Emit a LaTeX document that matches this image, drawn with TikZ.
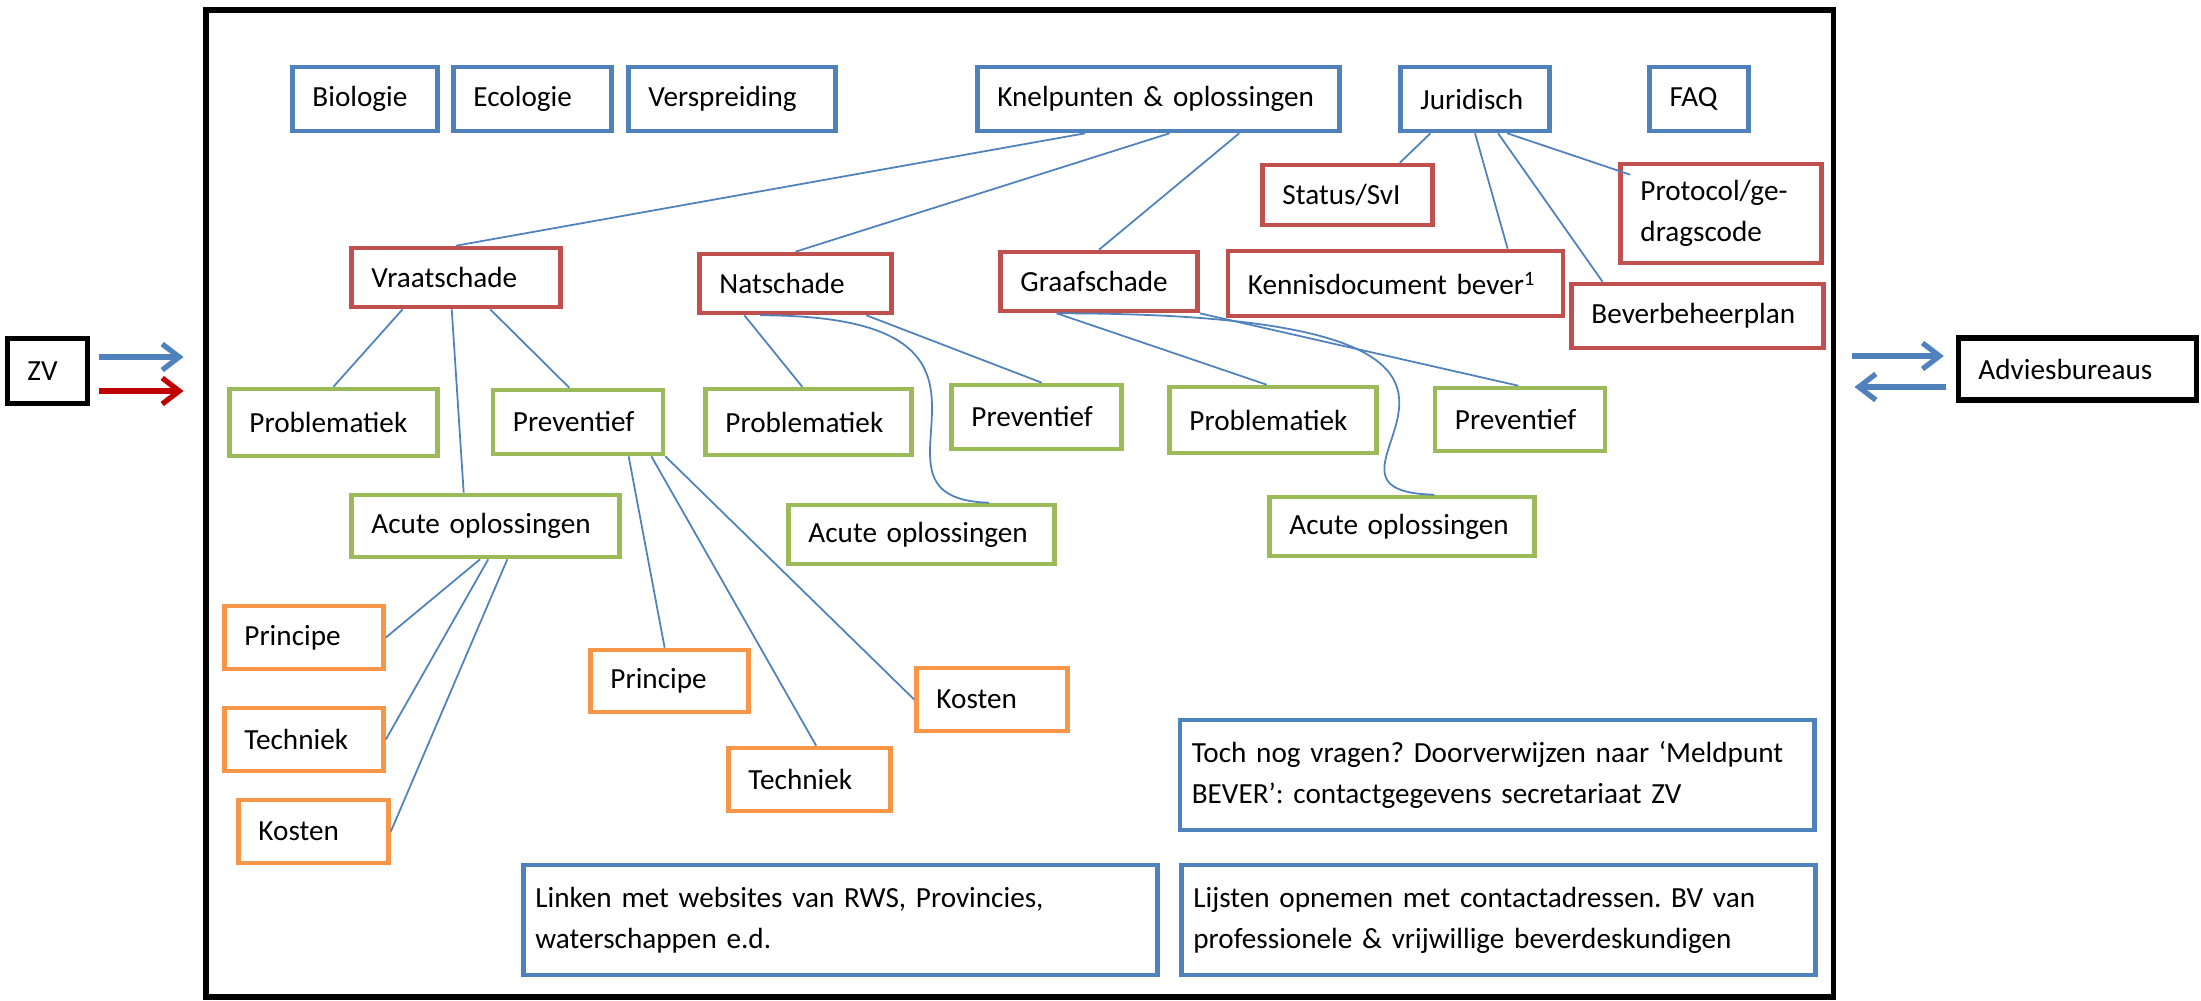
\documentclass[tikz,border=0pt]{standalone}
\usepackage{fontspec}
\setmainfont{Carlito}
\usetikzlibrary{calc,arrows.meta}
\definecolor{boxblue}{HTML}{4F81BD}
\definecolor{boxred}{HTML}{C0504D}
\definecolor{boxgreen}{HTML}{9BBB59}
\definecolor{boxorange}{HTML}{F79646}
\definecolor{arrowred}{HTML}{C00000}
\frenchspacing

\begin{document}
\begin{tikzpicture}[x=0.01cm, y=-0.01cm,
    tbox/.style={draw, line width=1.3pt, inner xsep=0.2cm, inner ysep=0pt, align=left,
      font=\fontsize{8.3}{11.7}\selectfont},
    wh/.style 2 args={text width=#1cm, minimum height=#2cm},
    bluebox/.style={tbox, draw=boxblue},
    redbox/.style={tbox, draw=boxred},
    greenbox/.style={tbox, draw=boxgreen},
    orangebox/.style={tbox, draw=boxorange},
    blackbox/.style={tbox, draw=black, line width=1.5pt},
    conn/.style={boxblue, line width=0.5pt},
    fat/.style={line width=1.5pt, -{Straight Barb[length=0.17cm, width=0.26cm]}}]
    \useasboundingbox (0,0) rectangle (2201,1000);
    \node[draw, line width=1.7pt, inner sep=0pt, minimum width=16.27cm, minimum height=9.87cm] (frame) at (1019.5,503.5) {};

    \node[bluebox, wh={1.05}{0.64}] (bio) at (365,99) {Biologie};
    \node[bluebox, wh={1.18}{0.64}] (eco) at (532.5,99) {Ecologie};
    \node[bluebox, wh={1.67}{0.64}] (vers) at (732,99) {Verspreiding};
    \node[bluebox, wh={3.22}{0.64}] (knel) at (1158.5,99) {Knelpunten \& oplossingen};
    \node[bluebox, wh={1.09}{0.64}] (jur) at (1475,99) {Juridisch};
    \node[bluebox, wh={0.59}{0.64}] (faq) at (1699,99) {FAQ};

    \node[redbox, wh={1.69}{0.59}] (vraat) at (456,277.5) {Vraatschade};
    \node[redbox, wh={1.52}{0.59}] (nat) at (795.5,283.5) {Natschade};
    \node[redbox, wh={1.57}{0.59}] (graaf) at (1099,281.5) {Graafschade};
    \node[redbox, wh={1.30}{0.60}] (status) at (1347.5,195) {Status/SvI};
    \node[redbox, wh={1.61}{0.99}] (proto) at (1721,213.5) {Protocol/ge-\\dragscode};
    \node[redbox, wh={2.95}{0.65}] (kennis) at (1395.5,283.5) {Kennisdocument bever\textsuperscript{1}};
    \node[redbox, wh={2.12}{0.64}] (bever) at (1697.5,316) {Beverbeheerplan};

    \node[greenbox, wh={1.68}{0.67}] (probv) at (333.5,422.5) {Problematiek};
    \node[greenbox, wh={1.30}{0.64}] (prevv) at (578,422) {Preventief};
    \node[greenbox, wh={2.28}{0.62}] (acv) at (485.5,526) {Acute oplossingen};
    \node[greenbox, wh={1.66}{0.66}] (probn) at (808.5,422) {Problematiek};
    \node[greenbox, wh={1.30}{0.64}] (prevn) at (1036.5,417) {Preventief};
    \node[greenbox, wh={2.26}{0.59}] (acn) at (921.5,534.5) {Acute oplossingen};
    \node[greenbox, wh={1.67}{0.66}] (probg) at (1273,420) {Problematiek};
    \node[greenbox, wh={1.30}{0.63}] (prevg) at (1520,419.5) {Preventief};
    \node[greenbox, wh={2.25}{0.59}] (acg) at (1402,526.5) {Acute oplossingen};

    \node[orangebox, wh={1.19}{0.63}] (prinav) at (304,637.5) {Principe};
    \node[orangebox, wh={1.19}{0.63}] (techav) at (304,739.5) {Techniek};
    \node[orangebox, wh={1.10}{0.63}] (kostav) at (313.5,831.5) {Kosten};
    \node[orangebox, wh={1.18}{0.62}] (prinpv) at (669.5,681) {Principe};
    \node[orangebox, wh={1.22}{0.63}] (techpv) at (809.5,779.5) {Techniek};
    \node[orangebox, wh={1.11}{0.63}] (kostpv) at (992,699.5) {Kosten};

    \node[bluebox, inner xsep=0.12cm, wh={6.1}{1.10}] (linken) at (840.5,920) {Linken met websites van RWS, Provincies,\\waterschappen e.d.};
    \node[bluebox, inner xsep=0.12cm, wh={6.1}{1.10}] (toch) at (1497,775) {Toch nog vragen? Doorverwijzen naar ‘Meldpunt\\BEVER’: contactgegevens secretariaat ZV};
    \node[bluebox, inner xsep=0.12cm, wh={6.1}{1.10}] (lijsten) at (1498.5,920) {Lijsten opnemen met contactadressen. BV van\\professionele \& vrijwillige beverdeskundigen};

    \node[blackbox, wh={0.40}{0.65}] (zv) at (47.5,371) {ZV};
    \node[blackbox, wh={1.98}{0.62}] (adv) at (2077.5,369) {Adviesbureaus};

    \draw[fat, boxblue] ($(zv.east)+(9,-14)$) -- ($(zv.east -| frame.west)+(-19,-14)$);
    \draw[fat, arrowred] ($(zv.east)+(9,20)$) -- ($(zv.east -| frame.west)+(-19,20)$);
    \draw[fat, boxblue] ($(adv.west -| frame.east)+(16,-13)$) -- ($(adv.west)+(-12,-13)$);
    \draw[fat, boxblue] ($(adv.west)+(-10,18)$) -- ($(adv.west -| frame.east)+(18,18)$);

    \draw[conn] ($(knel.south west)!0.30!(knel.south east)$) -- (vraat.north);
    \draw[conn] ($(knel.south west)!0.53!(knel.south east)$) -- (nat.north);
    \draw[conn] ($(knel.south west)!0.72!(knel.south east)$) -- (graaf.north);
    \draw[conn] ($(jur.south west)!0.21!(jur.south east)$) -- ($(status.north west)!0.80!(status.north east)$);
    \draw[conn] ($(jur.south west)!0.50!(jur.south east)$) -- ($(kennis.north west)!0.83!(kennis.north east)$);
    \draw[conn] ($(jur.south west)!0.65!(jur.south east)$) -- ($(bever.north west)!0.13!(bever.north east)$);
    \draw[conn] ($(jur.south west)!0.71!(jur.south east)$) -- ($(proto.north west)+(12,13)$);

    \draw[conn] ($(vraat.south west)!0.25!(vraat.south east)$) -- (probv.north);
    \draw[conn] ($(vraat.south west)!0.66!(vraat.south east)$) -- ($(prevv.north west)!0.45!(prevv.north east)$);
    \draw[conn] ($(vraat.south west)!0.48!(vraat.south east)$) -- ($(acv.north west)!0.42!(acv.north east)$);
    \draw[conn] ($(nat.south west)!0.24!(nat.south east)$) -- ($(probn.north west)!0.47!(probn.north east)$);
    \draw[conn] ($(nat.south west)!0.86!(nat.south east)$) -- ($(prevn.north west)!0.53!(prevn.north east)$);
    \draw[conn] ($(nat.south west)!0.32!(nat.south east)$) .. controls +(305,0) and +(-152,-4) .. ($(acn.north west)!0.75!(acn.north east)$);
    \draw[conn] ($(graaf.south west)!0.29!(graaf.south east)$) -- ($(probg.north west)!0.47!(probg.north east)$);
    \draw[conn] (graaf.south east) -- ($(prevg.north west)!0.49!(prevg.north east)$);
    \draw[conn] ($(graaf.south west)!0.29!(graaf.south east)$) .. controls +(582,0) and +(-172,-4) .. ($(acg.north west)!0.62!(acg.north east)$);

    \draw[conn] ($(prevv.south west)!0.79!(prevv.south east)$) -- ($(prinpv.north west)!0.47!(prinpv.north east)$);
    \draw[conn] ($(prevv.south west)!0.92!(prevv.south east)$) -- ($(techpv.north west)!0.54!(techpv.north east)$);
    \draw[conn] (prevv.south east) -- (kostpv.west);
    \draw[conn] ($(acv.south west)!0.48!(acv.south east)$) -- (prinav.east);
    \draw[conn] ($(acv.south west)!0.51!(acv.south east)$) -- (techav.east);
    \draw[conn] ($(acv.south west)!0.58!(acv.south east)$) -- (kostav.east);
\end{tikzpicture}
\end{document}
